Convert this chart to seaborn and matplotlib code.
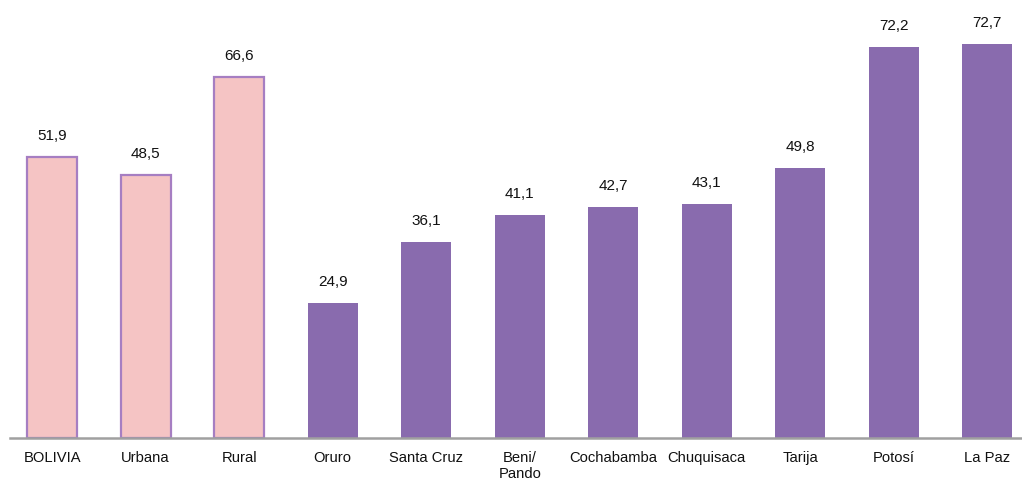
import matplotlib
matplotlib.use("Agg")
import matplotlib.pyplot as plt
import seaborn as sns
import pandas as pd

categories = ["BOLIVIA", "Urbana", "Rural", "Oruro", "Santa Cruz", "Beni/\nPando",
              "Cochabamba", "Chuquisaca", "Tarija", "Potosí", "La Paz"]
values = [51.9, 48.5, 66.6, 24.9, 36.1, 41.1, 42.7, 43.1, 49.8, 72.2, 72.7]
groups = ["nacional", "nacional", "nacional"] + ["departamento"] * 8

PINK = "#F5C4C4"
PINK_EDGE = "#A67EC2"
PURPLE = "#896BAE"

df = pd.DataFrame({"cat": categories, "val": values, "grp": groups})

sns.set_theme(style="white")
plt.rcParams["font.family"] = ["Liberation Sans", "DejaVu Sans"]

fig = plt.figure(figsize=(10.22, 4.86), dpi=100)
ax = fig.add_axes([10 / 1022, 48 / 486, 1012 / 1022, 438 / 486])

sns.barplot(data=df, x="cat", y="val", hue="grp",
            palette={"nacional": PINK, "departamento": PURPLE},
            dodge=False, width=0.535, legend=False, ax=ax, saturation=1)

for patch in ax.patches:
    fc = patch.get_facecolor()
    if abs(fc[0] - 0xF5 / 255) < 0.02 and abs(fc[1] - 0xC4 / 255) < 0.02:
        patch.set_edgecolor(PINK_EDGE)
        patch.set_linewidth(1.6)
    else:
        patch.set_linewidth(0)

for i, v in enumerate(values):
    ax.annotate(f"{v:.1f}".replace(".", ","), xy=(i, v), xytext=(0, 10),
                textcoords="offset points", ha="center", va="bottom",
                fontsize=11, color="#111111")

ax.set_xlim(-0.45, 10.37)
ax.set_ylim(0, 80.8)
ax.set_xlabel("")
ax.set_ylabel("")
ax.set_yticks([])
ax.tick_params(axis="x", length=0, pad=9, labelsize=10.6, colors="#111111")
for s in ["top", "right", "left"]:
    ax.spines[s].set_visible(False)
ax.spines["bottom"].set_color("#A0A0A0")
ax.spines["bottom"].set_linewidth(1.8)
ax.set_facecolor("white")
fig.patch.set_facecolor("white")

fig.savefig("out.png", dpi=100)
